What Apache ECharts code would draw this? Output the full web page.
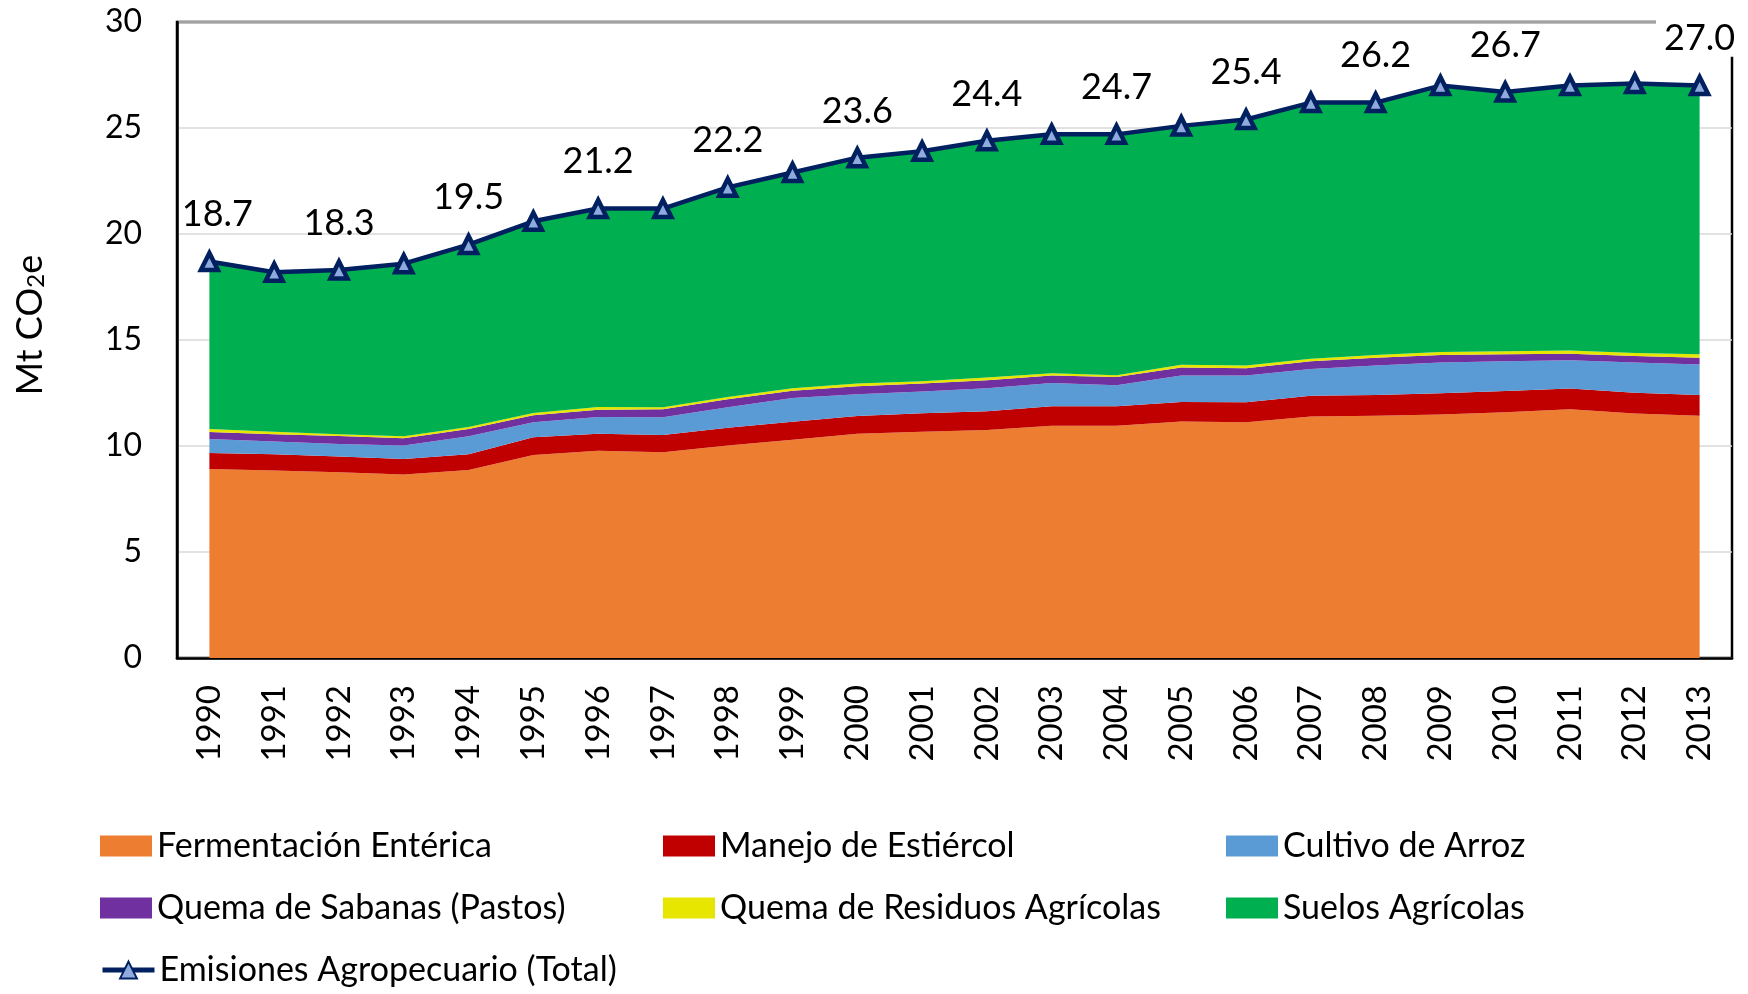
<!DOCTYPE html>
<html>
<head>
    <meta charset="utf-8">
    <title>Emisiones Agropecuario</title>
    <script src="https://cdn.jsdelivr.net/npm/echarts@6/dist/echarts.min.js"></script>
    <style>
        html, body {margin:0;padding:0;background:#fff;}
        #chart {width:1748px;height:994px;}
    </style>
</head>
<body>
<div id="chart"></div>
<script>
    // 年份
    var years = ['1990','1991','1992','1993','1994','1995','1996','1997','1998','1999','2000','2001',
                 '2002','2003','2004','2005','2006','2007','2008','2009','2010','2011','2012','2013'];

    var fermentacion = [8.92,8.85,8.76,8.66,8.87,9.58,9.78,9.70,10.02,10.30,10.58,10.67,
                        10.76,10.95,10.95,11.15,11.12,11.39,11.43,11.49,11.59,11.73,11.53,11.43];
    var manejo       = [0.75,0.76,0.75,0.73,0.74,0.83,0.80,0.82,0.84,0.84,0.84,0.88,
                        0.88,0.92,0.92,0.92,0.94,0.98,0.98,1.00,1.00,0.98,0.98,0.98];
    var arroz        = [0.66,0.60,0.58,0.63,0.85,0.71,0.79,0.84,0.97,1.12,1.02,1.02,
                        1.08,1.10,1.00,1.25,1.27,1.26,1.39,1.45,1.41,1.33,1.43,1.43];
    var sabanas      = [0.33,0.35,0.38,0.34,0.34,0.33,0.34,0.37,0.37,0.35,0.38,0.38,
                        0.38,0.35,0.38,0.38,0.34,0.37,0.36,0.35,0.33,0.31,0.30,0.32];
    var residuos     = [0.14,0.11,0.09,0.10,0.10,0.11,0.13,0.10,0.11,0.11,0.13,0.11,
                        0.13,0.11,0.09,0.13,0.13,0.12,0.13,0.14,0.14,0.16,0.15,0.17];
    var suelos       = [7.90,7.53,7.74,8.14,8.60,9.04,9.36,9.37,9.89,10.18,10.65,10.84,
                        11.17,11.27,11.36,11.27,11.60,12.08,11.91,12.57,12.23,12.49,12.71,12.67];
    var total        = [18.7,18.2,18.3,18.6,19.5,20.6,21.2,21.2,22.2,22.9,23.6,23.9,
                        24.4,24.7,24.7,25.1,25.4,26.2,26.2,27.0,26.7,27.0,27.1,27.0];
    // 显示数值标签的年份
    var labelYears = ['1990','1992','1994','1996','1998','2000','2002','2004','2006','2008','2010','2013'];

    var yTicks = {min: 0, max: 30, interval: 5};

    var FONT = 'Lato';

    function areaSeries(name, data, color) {
        return {
            name: name,
            type: 'line',
            stack: 'total',
            data: data,
            symbol: 'none',
            lineStyle: {width: 0},
            areaStyle: {color: color, opacity: 1},
            itemStyle: {color: color},
            emphasis: {disabled: true}
        };
    }

    var lastYear = years[years.length - 1];
    var totalData = total.map(function (v, i) {
        var show = labelYears.indexOf(years[i]) >= 0;
        var lbl = {show: show};
        if (i === 0) {
            lbl.offset = [8, 0];   // 第一个标签不压左边框
        }
        // 最后一个标签压住边框
        if (years[i] === lastYear) {
            lbl.backgroundColor = '#fff';
            lbl.padding = [6, 8, 0, 8];
        }
        return {value: v, label: lbl};
    });

    function legendItems(names) {
        return names.map(function (n) {
            if (n.indexOf('Total') >= 0) {
                return {name: n, lineStyle: {width: 5, color: '#002060'}};
            }
            return {name: n, icon: 'rect'};
        });
    }

    var chart = echarts.init(document.getElementById('chart'));
    var legendText = {fontFamily: FONT, fontSize: 34, color: '#000'};
    function legendCol(left, top, names) {
        return {
            orient: 'vertical', left: left, top: top, itemGap: 28, padding: 0,
            itemWidth: 52, itemHeight: 21, textStyle: legendText,
            data: legendItems(names)
        };
    }
    var option = {
        animation: false,
        textStyle: {fontFamily: FONT},
        grid: {
            left: 177, right: 16, top: 22, bottom: 336,
            show: true, borderColor: '#000', borderWidth: 2.5, backgroundColor: 'transparent'
        },
        legend: [
            legendCol(100, 829, ['Fermentación Entérica', 'Quema de Sabanas (Pastos)']),
            legendCol(663, 829, ['Manejo de Estiércol', 'Quema de Residuos Agrícolas']),
            legendCol(1226, 829, ['Cultivo de Arroz', 'Suelos Agrícolas']),
            legendCol(100, 953, ['Emisiones Agropecuario (Total)'])
        ],
        graphic: [
            {
                type: 'text',
                x: 30, y: 325,
                rotation: Math.PI / 2,
                style: {
                    text: 'Mt CO{sub|2}e',
                    fontSize: 36, fontFamily: FONT, fill: '#000',
                    align: 'center', verticalAlign: 'middle',
                    rich: {sub: {fontSize: 24, fontFamily: FONT, fill: '#000', padding: [12, 0, 0, 0]}}
                }
            }
        ],
        xAxis: {
            type: 'category',
            data: years,
            boundaryGap: true,
            axisLine: {lineStyle: {color: '#000', width: 2.5}},
            axisTick: {show: false},
            axisLabel: {rotate: 90, margin: 27, fontSize: 33, fontFamily: FONT, color: '#000', interval: 0}
        },
        yAxis: {
            type: 'value',
            min: yTicks.min, max: yTicks.max, interval: yTicks.interval,
            axisLine: {show: true, lineStyle: {color: '#000', width: 2.5}},
            axisTick: {show: false},
            splitLine: {lineStyle: {color: '#D9D9D9', width: 1.5}},
            axisLabel: {margin: 35, fontSize: 32, fontFamily: FONT, color: '#000'}
        },
        series: [
            areaSeries('Fermentación Entérica', fermentacion, '#ED7D31'),
            areaSeries('Manejo de Estiércol', manejo, '#C00000'),
            areaSeries('Cultivo de Arroz', arroz, '#5B9BD5'),
            areaSeries('Quema de Sabanas (Pastos)', sabanas, '#7030A0'),
            areaSeries('Quema de Residuos Agrícolas', residuos, '#E6E600'),
            areaSeries('Suelos Agrícolas', suelos, '#00B050'),
            {
                name: 'Emisiones Agropecuario (Total)',
                type: 'line',
                data: totalData,
                z: 5,
                symbol: 'triangle',
                symbolSize: 17,
                showAllSymbol: true,
                lineStyle: {color: '#002060', width: 4.5},
                itemStyle: {color: '#8FAADC', borderColor: '#002060', borderWidth: 4.5},
                label: {
                    position: 'top', distance: 18,
                    fontSize: 36, fontFamily: FONT, color: '#000',
                    formatter: function (p) { return p.value.toFixed(1); }
                },
                emphasis: {disabled: true}
            }
        ]
    };
    chart.setOption(option);
</script>
</body>
</html>
